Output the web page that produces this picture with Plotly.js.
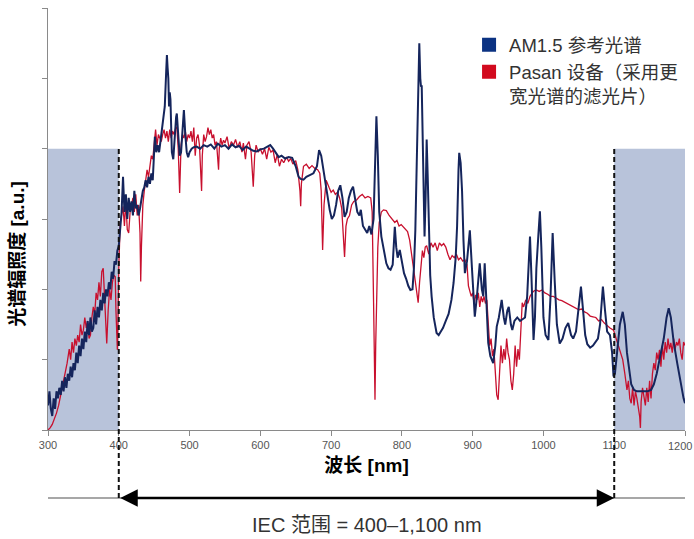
<!DOCTYPE html>
<html>
<head>
<meta charset="utf-8">
<script src="https://cdn.plot.ly/plotly-3.0.1.min.js"></script>
<style>html,body{margin:0;padding:0;background:#fff;}#chart{width:694px;height:539px;}</style>
</head>
<body>
<div id="chart"></div>
<script>
// AM1.5 reference spectrum (wavelength nm, irradiance a.u.)
const amWl = [300,302,304,306,308,310,312,314,316,318,320,322,324,326,328,330,332,334,336,338,340,342,344,346,348,350,352,354,356,358,360,362,364,366,368,370,372,374,376,378,380,382,384,386,388,390,392,394,396,398,400,402,404,406,408,410,412,414,416,418,420,422,424,426,428,430,432,434,436,438,440,442,444,446,448,450,451,453,455,457,459,461,463,465,467,468,469,470,471,472,473,474,475,477,479,481,482,484,486,488,490,492,494,496,498,500,503,506,510,515,520,525,530,535,540,545,550,555,560,565,570,575,580,585,590,595,600,605,610,614,618,622,626,630,635,640,645,650,654,657,661,665,670,675,680,683,686,689,692,695,698,701,704,707,710,713,716,719,722,725,728,731,734,737,740,742,745,748,751,754,757,760,762,764,766,768,771,775,778,781,784,787,789,790,792,794,797,800,803,806,809,812,815,817,819,821,823,824.6,826,827,828,830,832,833.5,835,836.5,838,840,842,845,849,852,855,858,862,866,870,873,876,878,880,881,883,885,887,889,892,896,899,901,903,906,910,913,915,917,919,922,925,929,932,934,937,941,944,946,949,951,954,956,959,963,967,971,974,977,979,981,983,986,988,990,993,995,997,1000,1003,1007,1010,1013,1016,1019,1023,1027,1031,1035,1039,1042,1046,1050,1053,1056,1059,1062,1066,1070,1074,1077,1080,1084,1087,1090,1094,1097,1099,1101,1104,1108,1112,1115,1118,1121,1124,1128,1132,1137,1142,1147,1152,1156,1160,1165,1170,1174,1177,1180,1184,1189,1194,1198,1200];
const amVal = [0.35,0.55,0.3,0.2,0.45,0.3,0.55,0.45,0.6,0.5,0.7,0.55,0.75,0.6,0.8,0.7,0.9,0.75,0.95,0.85,1.1,0.95,1.2,1.05,1.3,1.15,1.4,1.25,1.55,1.35,1.6,1.4,1.45,1.7,1.5,1.75,1.6,1.85,1.7,1.95,1.8,2.0,1.9,2.1,2.0,2.25,2.15,2.4,2.35,2.55,2.62,2.85,3.1,3.6,3.1,3.35,3.0,3.3,3.1,3.25,3.05,3.4,3.15,3.2,3.05,3.15,3.3,3.4,3.45,3.55,3.45,3.6,3.5,3.65,3.55,3.9,4.17,3.95,4.05,3.95,4.1,4.3,4.45,4.6,5.1,5.33,5.15,5.0,4.6,4.8,4.7,4.2,3.95,3.85,4.2,4.45,4.5,4.2,3.9,3.95,4.3,4.55,4.2,3.95,3.88,3.95,4.0,4.02,4.03,4.0,4.05,4.03,4.06,4.0,4.07,4.03,4.05,4.0,4.06,4.02,4.04,3.98,4.03,4.0,3.97,3.96,3.99,4.0,4.03,4.05,4.0,3.93,3.88,3.9,3.86,3.88,3.87,3.75,3.6,3.57,3.56,3.6,3.62,3.65,3.75,3.98,3.9,3.7,3.5,3.3,3.13,3.0,3.05,3.2,3.4,3.48,3.3,3.03,3.1,3.3,3.4,3.46,3.3,3.1,3.05,3.13,2.9,2.85,2.8,2.9,2.78,3.0,3.8,4.46,3.9,3.1,2.75,2.55,2.37,2.3,2.28,2.35,2.7,2.89,2.6,2.45,2.56,2.4,2.23,2.15,2.05,1.99,2.0,2.3,2.84,3.8,4.9,5.5,5.0,4.88,4.9,4.0,2.75,3.3,4.13,3.6,2.8,2.2,1.9,1.6,1.38,1.35,1.4,1.45,1.55,1.65,1.85,2.09,2.45,2.9,3.7,3.94,3.8,3.4,2.7,2.23,2.4,2.84,2.3,1.85,1.61,1.9,2.37,2.0,1.9,2.37,1.9,1.24,1.05,0.95,1.2,1.47,1.6,1.85,1.6,1.5,1.7,1.75,1.5,1.42,1.55,1.6,1.55,1.58,1.6,1.9,2.4,2.75,2.2,1.28,1.6,2.3,2.8,3.11,2.6,1.6,1.35,1.28,1.9,2.8,2.1,1.5,1.23,1.3,1.45,1.52,1.35,1.3,1.4,1.75,2.04,1.7,1.35,1.22,1.17,1.2,1.25,1.3,1.5,2.04,1.7,1.4,1.35,1.1,0.76,0.8,1.1,1.5,1.68,1.5,1.1,0.85,0.65,0.57,0.55,0.55,0.55,0.55,0.57,0.65,0.8,1.04,1.3,1.6,1.73,1.6,1.25,0.95,0.65,0.45,0.38];

// Pasan equipment spectrum
const pasanWl = [300,303,306,309,312,315,318,321,324,327,330,332,334,336,338,340,342,344,346,348,350,352,354,356,358,360,362,364,366,368,370,372,374,376,378,380,382,383,385,387,389,391,393,395,396,397,398,399,400,402,404,406,408,410,412,414,416,418,420,422,424,426,428,430,431,432,434,436,438,440,442,444,446,448,450,452,454,456,458,460,462,464,466,468,470,472,474,476,478,480,482,484,486,488,490,492,494,496,498,500,502,504,506,508,510,512,514,516,517,518,520,522,524,526,528,530,532,534,536,538,540,541,542,544,546,548,550,553,556,559,562,565,568,571,574,576,579,581,584,587,590,592,594,597,600,603,606,609,612,615,618,621,624,627,630,633,637,640,643,646,650,653,656,657,658,661,665,669,673,677,681,684,686,688,690,693,697,700,703,706,709,712,715,717,719,721,723,726,729,732,736,740,744,748,752,756,758,760,761,762,763,764,766,768,771,774,778,782,786,790,793,796,799,802,805,808,811,813,815,817,819,821,823,825,827,829,831,833,835,838,841,844,847,850,853,856,859,862,865,868,871,874,877,880,883,886,889,892,894,896,898,900,902,904,906,908,910,912,914,916,918,920,922,924,926,928,930,932,934,936,938,940,942,944,946,948,950,952,954,956,958,960,962,964,966,968,970,972,975,978,981,984,987,990,994,998,1002,1006,1010,1014,1018,1022,1026,1030,1034,1038,1042,1046,1050,1054,1058,1062,1066,1070,1074,1078,1082,1086,1090,1094,1099,1103,1106,1109,1112,1115,1118,1120,1122,1124,1126,1128,1130,1132,1134,1136,1137,1138,1140,1142,1144,1146,1148,1150,1152,1154,1156,1158,1160,1162,1164,1166,1168,1170,1172,1174,1176,1178,1180,1182,1184,1186,1188,1190,1192,1194,1196,1198,1200];
const pasanVal = [0.0,0.03,0.08,0.15,0.24,0.35,0.5,0.65,0.75,0.95,1.15,1.0,1.25,1.1,1.3,1.2,1.35,1.25,1.5,1.35,1.42,1.6,1.45,1.55,1.3,1.35,1.6,1.75,1.65,1.95,1.85,2.1,1.9,2.25,2.3,1.8,1.55,1.23,1.7,2.0,1.85,2.1,2.2,2.18,1.7,1.3,1.14,1.6,2.3,2.94,3.05,3.18,2.9,3.25,2.85,2.8,3.1,3.2,3.3,3.1,3.35,3.05,3.2,2.8,2.11,2.6,3.2,3.4,3.55,3.7,3.6,3.79,3.9,3.85,4.1,4.27,4.05,4.2,4.15,4.1,4.2,4.27,4.15,4.25,4.1,4.27,4.15,4.25,4.2,4.28,4.31,4.0,3.37,4.05,4.2,4.15,4.25,4.1,4.2,4.15,4.25,4.1,4.3,3.9,4.15,4.2,4.05,3.6,3.4,3.9,4.2,4.1,4.17,4.3,4.2,4.27,4.15,4.2,4.05,4.1,3.85,3.7,4.0,4.15,4.05,4.12,4.08,4.17,4.0,4.1,4.05,4.13,4.02,4.1,3.95,4.08,3.85,4.05,4.1,3.95,3.46,3.9,4.05,3.95,4.0,3.92,4.0,3.85,4.02,3.95,3.98,3.8,3.92,3.75,3.85,3.8,3.88,3.82,3.86,3.78,3.83,3.7,3.4,3.18,3.5,3.75,3.78,3.72,3.76,3.72,3.7,3.65,3.4,2.56,3.2,3.55,3.45,3.38,3.41,3.35,3.38,3.3,3.15,2.8,2.46,2.9,3.0,3.05,3.2,3.25,3.27,3.32,3.35,3.3,3.32,3.3,3.1,1.81,1.0,0.43,1.2,1.79,2.6,2.95,3.1,3.13,3.12,3.05,3.0,2.95,2.98,2.9,2.92,2.89,2.85,2.82,2.7,2.55,2.46,2.3,2.1,1.95,1.81,2.1,2.4,2.55,2.45,2.6,2.62,2.5,2.66,2.6,2.66,2.55,2.66,2.62,2.65,2.6,2.5,2.42,2.48,2.45,2.5,2.42,2.45,2.4,2.42,2.35,2.05,1.95,1.9,1.95,1.8,1.92,1.85,1.95,1.75,1.9,1.82,1.9,1.8,1.85,1.5,1.2,1.3,1.05,1.15,0.75,0.5,0.43,0.9,1.2,0.95,1.15,1.0,1.3,1.1,1.0,0.7,0.57,0.8,1.2,0.9,1.15,1.0,1.4,1.81,1.75,1.85,1.8,1.9,1.95,1.98,1.99,1.97,1.99,1.95,1.93,1.9,1.9,1.87,1.85,1.84,1.82,1.8,1.78,1.75,1.73,1.71,1.72,1.68,1.66,1.62,1.61,1.6,1.55,1.57,1.52,1.48,1.45,1.42,1.3,1.2,1.1,1.0,0.8,0.57,0.7,0.45,0.38,0.6,0.35,0.55,0.45,0.3,0.19,0.03,0.4,0.6,0.5,0.35,0.6,0.4,0.7,0.45,0.8,0.95,0.85,1.1,1.0,1.14,0.9,1.2,1.0,1.25,1.1,1.3,1.15,1.24,1.1,1.3,1.15,1.25,1.2,1.3,1.1,1.0,1.25,1.2];

const xTicks = [300,400,500,600,700,800,900,1000,1100,1200];
const seriesNames = ['AM1.5 参考光谱', 'Pasan 设备（采用更<br>宽光谱的滤光片）'];
const iecRange = [400, 1100];
const shadeTop = 4;
const xTitle = '波长 [nm]';
const yTitle = '光谱辐照度 [a.u.]';
const iecLabel = 'IEC 范围 = 400–1,100 nm';

const FONT = 'Liberation Sans, Arial, "Noto Sans CJK SC", sans-serif';
const NAVY = '#15255c', RED = '#c8102e';

const traces = [
  {x: pasanWl, y: pasanVal, type: 'scatter', mode: 'lines', line: {color: RED, width: 1.3}, showlegend: false, hoverinfo: 'skip'},
  {x: amWl, y: amVal, type: 'scatter', mode: 'lines', line: {color: NAVY, width: 2}, showlegend: false, hoverinfo: 'skip'},
  {x: [null], y: [null], type: 'scatter', mode: 'markers', name: seriesNames[0], marker: {symbol: 'square', size: 14, color: '#0b3282'}},
  {x: [null], y: [null], type: 'scatter', mode: 'markers', name: seriesNames[1], marker: {symbol: 'square', size: 14, color: '#d20a1e'}}
];

const yArrow = -0.161; // paper coords for IEC arrow row
const shapes = [
  {type: 'rect', xref: 'x', yref: 'y', x0: 300, x1: iecRange[0], y0: 0, y1: shadeTop, fillcolor: '#b8c3da', line: {width: 0}, layer: 'below'},
  {type: 'rect', xref: 'x', yref: 'y', x0: iecRange[1], x1: 1200, y0: 0, y1: shadeTop, fillcolor: '#b8c3da', line: {width: 0}, layer: 'below'},
  {type: 'line', xref: 'paper', yref: 'paper', x0: 0, x1: 1, y0: yArrow, y1: yArrow, line: {color: '#8a8a8a', width: 1.5}, layer: 'above'},
  {type: 'line', xref: 'x', yref: 'paper', x0: iecRange[0], x1: iecRange[0], y0: yArrow, y1: shadeTop / 6, line: {color: '#111', width: 2, dash: '5px,3px'}, layer: 'above'},
  {type: 'line', xref: 'x', yref: 'paper', x0: iecRange[1], x1: iecRange[1], y0: yArrow, y1: shadeTop / 6, line: {color: '#111', width: 2, dash: '5px,3px'}, layer: 'above'}
];

const lastTick = xTicks[xTicks.length - 1];
const annotations = [
  {xref: 'x', yref: 'paper', x: iecRange[1], y: yArrow, axref: 'x', ayref: 'pixel', ax: iecRange[0], ay: 0,
   showarrow: true, arrowhead: 2, startarrowhead: 2, arrowside: 'end+start', arrowsize: 1.4, startarrowsize: 1.4, arrowwidth: 2.5, arrowcolor: '#000', text: ''},
  {xref: 'paper', yref: 'paper', x: 0.5, y: -0.226, yanchor: 'middle', xanchor: 'center', showarrow: false, text: iecLabel,
   font: {family: FONT, size: 20, color: '#333'}},
  {xref: 'paper', yref: 'paper', x: -0.049, y: 0.417, xanchor: 'center', yanchor: 'middle', textangle: -90, showarrow: false,
   text: '<b>' + yTitle + '</b>', font: {family: FONT, size: 19, color: '#000'}},
  // last tick label, kept inside the page edge
  {xref: 'paper', yref: 'paper', x: 1.0125, y: -0.037, xanchor: 'right', yanchor: 'middle', showarrow: false,
   text: String(lastTick), font: {family: FONT, size: 11, color: '#555'}, borderpad: 0}
];

const layout = {
  width: 694, height: 539,
  margin: {l: 48, r: 9, t: 8, b: 109},
  paper_bgcolor: '#fff', plot_bgcolor: '#fff',
  font: {family: FONT},
  xaxis: {
    range: [300, 1200], tickvals: xTicks, ticktext: xTicks.map(v => v === lastTick ? '' : String(v)),
    showline: true, linecolor: '#8a8a8a', linewidth: 1.2, ticks: 'outside', ticklen: 5, tickcolor: '#8a8a8a',
    showgrid: false, zeroline: false, tickfont: {family: FONT, size: 11, color: '#555'},
    title: {text: '<b>' + xTitle + '</b>', font: {family: FONT, size: 19, color: '#000'}, standoff: 8}
  },
  yaxis: {
    range: [0, 6], tickvals: [0,1,2,3,4,5,6], showticklabels: false,
    showline: true, linecolor: '#8a8a8a', linewidth: 1.2, ticks: 'outside', ticklen: 5, tickcolor: '#8a8a8a',
    showgrid: false, zeroline: false
  },
  legend: {x: 0.661, y: 0.957, xanchor: 'left', yanchor: 'top', bgcolor: 'rgba(0,0,0,0)',
    font: {family: FONT, size: 18.5, color: '#333'}, valign: 'top', tracegroupgap: 0, itemwidth: 30},
  shapes: shapes,
  annotations: annotations,
  showlegend: true
};

Plotly.newPlot('chart', traces, layout, {staticPlot: true, displayModeBar: false});
</script>
</body>
</html>
